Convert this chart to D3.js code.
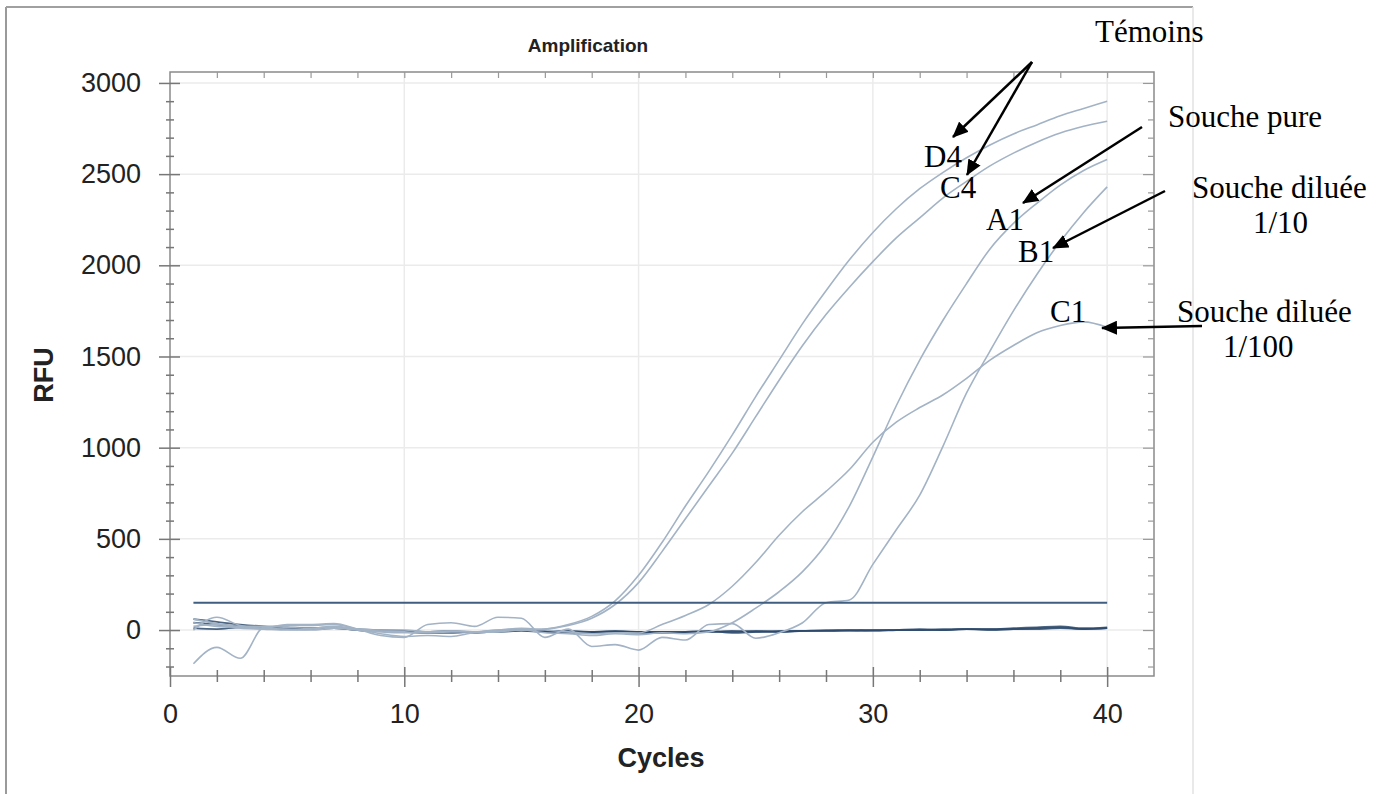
<!DOCTYPE html>
<html>
<head>
<meta charset="utf-8">
<script src="https://cdn.jsdelivr.net/npm/d3@7/dist/d3.min.js"></script>
<style>
  body { margin: 0; background: #fff; }
  svg { display: block; }
</style>
</head>
<body>
<div id="amplification-chart"></div>
<script>
// DATA
const cycles = [1, 2, 3, 4, 5, 6, 7, 8, 9, 10, 11, 12, 13, 14, 15, 16, 17, 18, 19, 20,
  21, 22, 23, 24, 25, 26, 27, 28, 29, 30, 31, 32, 33, 34, 35, 36, 37, 38, 39, 40];

const d4 = [20, 30, 10, 5, 0, 5, 15, 0, -10, -15, -10, -5, -10, 0, 0, 5, 30, 75, 160, 300,
  480, 680, 870, 1070, 1280, 1480, 1680, 1860, 2030, 2180, 2310, 2420, 2510, 2590, 2660, 2720, 2770, 2820, 2860, 2900];
const c4 = [40, 20, 15, 10, 5, 0, 10, 0, -5, -10, -15, -10, -10, -5, 0, 5, 25, 65, 140, 260,
  430, 610, 790, 970, 1170, 1370, 1560, 1730, 1880, 2020, 2150, 2260, 2370, 2460, 2545, 2615, 2675, 2725, 2762, 2790];
const a1 = [-185, -95, -155, 15, 25, 25, 30, 5, -20, -35, -30, -35, -15, -10, 0, -15, -20, -30, -20, -25,
  -15, -20, -10, 40, 120, 210, 320, 470, 680, 950, 1230, 1480, 1700, 1900, 2090, 2230, 2340, 2440, 2520, 2580];
const b1 = [0, 70, 25, 10, 30, 30, 35, 5, -30, -40, 30, 40, 20, 70, 65, -40, 5, -90, -80, -110,
  -40, -55, 30, 35, -45, -15, 40, 150, 165, 360, 550, 740, 1010, 1300, 1530, 1750, 1950, 2130, 2290, 2430];
const c1 = [60, 35, 20, 20, 15, 10, 20, 5, 0, 0, -10, -5, -10, 0, 10, 0, -10, -20, -15, -16,
  30, 80, 140, 240, 370, 520, 650, 760, 880, 1030, 1140, 1220, 1290, 1380, 1480, 1560, 1630, 1670, 1690, 1660];

// flat wells (no amplification)
const neg1 = [60, 45, 30, 20, 15, 10, 15, 5, 0, -5, -10, -10, -10, -5, 0, -5, -10, -15, -10, -10,
  -10, -15, -10, -10, -5, -10, -5, 0, 0, 0, 0, 0, 5, 5, 5, 10, 15, 20, 10, 15];
const neg2 = [40, 30, 20, 15, 10, 5, 10, 0, -5, -10, -15, -15, -10, -10, -5, -10, -15, -10, -10, -15,
  -15, -10, -5, -15, -10, -5, -5, -5, 0, -5, 0, 5, 0, 5, 5, 5, 5, 10, 5, 10];
const neg3 = [10, 5, 15, 10, 5, 5, 10, 0, -5, -5, -10, -5, -15, -5, 0, -5, -5, -10, -5, -10,
  -10, -10, -10, -5, -10, -10, -5, -5, -5, 0, 0, 0, 0, 5, 0, 5, 10, 15, 5, 10];

const threshold = 150;
const thresholdCycles = [1, 40];

const xTicks = [0, 10, 20, 30, 40];
const yTicks = [0, 500, 1000, 1500, 2000, 2500, 3000];

const WIDTH = 1389;
const HEIGHT = 794;
const PLOT = { LEFT: 170, RIGHT: 1154, TOP: 72, BOTTOM: 676 };
const SANS = "'Liberation Sans', Arial, sans-serif";
const SERIF = "'Liberation Serif', 'Times New Roman', serif";

let svg = d3
  .select("#amplification-chart")
  .append("svg")
  .attr("width", WIDTH)
  .attr("height", HEIGHT);

svg.append("rect").attr("width", WIDTH).attr("height", HEIGHT).style("fill", "#fff");

// OUTER PAGE FRAME
svg.append("line").attr("x1", 6).attr("y1", 7).attr("x2", 6).attr("y2", HEIGHT)
  .style("stroke", "#9a9a9a").style("stroke-width", "2px");
svg.append("line").attr("x1", 6).attr("y1", 7).attr("x2", 1193).attr("y2", 7)
  .style("stroke", "#a0a0a0").style("stroke-width", "2px");
svg.append("line").attr("x1", 1193).attr("y1", 7).attr("x2", 1193).attr("y2", HEIGHT)
  .style("stroke", "#e2e2e2").style("stroke-width", "1.5px");

let x = d3.scaleLinear().domain([0, 42]).range([PLOT.LEFT, PLOT.RIGHT]);
let y = d3.scaleLinear().domain([-252, 3060]).range([PLOT.BOTTOM, PLOT.TOP]);

// GRID
svg.append("g")
  .selectAll("line")
  .data(xTicks.filter((d) => d > 0))
  .enter()
  .append("line")
  .attr("x1", (d) => x(d)).attr("x2", (d) => x(d))
  .attr("y1", PLOT.TOP).attr("y2", PLOT.BOTTOM)
  .style("stroke", "#ebebeb").style("stroke-width", "1.5px");

svg.append("g")
  .selectAll("line")
  .data(yTicks)
  .enter()
  .append("line")
  .attr("x1", PLOT.LEFT).attr("x2", PLOT.RIGHT)
  .attr("y1", (d) => y(d)).attr("y2", (d) => y(d))
  .style("stroke", "#ebebeb").style("stroke-width", "1.5px");

// FRAME
svg.append("rect")
  .attr("x", PLOT.LEFT).attr("y", PLOT.TOP)
  .attr("width", PLOT.RIGHT - PLOT.LEFT).attr("height", PLOT.BOTTOM - PLOT.TOP)
  .style("fill", "none").style("stroke", "#8a8a8a").style("stroke-width", "1.5px");

// AXES
let yMinor = d3.range(-200, 3001, 100).filter((d) => d % 500 !== 0);
let xMinor = d3.range(2, 42, 2).filter((d) => d % 10 !== 0);

svg.append("g")
  .attr("transform", `translate(${PLOT.LEFT}, 0)`)
  .call(d3.axisLeft(y).tickValues(yTicks).tickFormat(d3.format("d")).tickSize(11).tickPadding(18))
  .call((g) => {
    g.select(".domain").remove();
    g.selectAll(".tick line").attr("x1", 10).style("stroke", "#777").style("stroke-width", "1.5px");
    g.selectAll("text").style("font-family", SANS).style("font-size", "27px").style("fill", "#222");
  });

svg.append("g")
  .attr("transform", `translate(${PLOT.LEFT}, 0)`)
  .call(d3.axisLeft(y).tickValues(yMinor).tickSize(4).tickFormat(""))
  .call((g) => {
    g.select(".domain").remove();
    g.selectAll(".tick line").attr("x1", 4).style("stroke", "#777").style("stroke-width", "1.5px");
  });

svg.append("g")
  .attr("transform", `translate(0, ${PLOT.BOTTOM})`)
  .call(d3.axisBottom(x).tickValues(xTicks).tickFormat(d3.format("d")).tickSize(11).tickPadding(17))
  .call((g) => {
    g.select(".domain").remove();
    g.selectAll(".tick line").attr("y1", -9).style("stroke", "#777").style("stroke-width", "1.5px");
    g.selectAll("text").style("font-family", SANS).style("font-size", "27px").style("fill", "#222");
  });

svg.append("g")
  .attr("transform", `translate(0, ${PLOT.BOTTOM})`)
  .call(d3.axisBottom(x).tickValues(xMinor).tickSize(6).tickFormat(""))
  .call((g) => {
    g.select(".domain").remove();
    g.selectAll(".tick line").attr("y1", -6).style("stroke", "#777").style("stroke-width", "1.5px");
  });

// top + right ticks (inside)
svg.append("g")
  .attr("transform", `translate(0, ${PLOT.TOP})`)
  .call(d3.axisBottom(x).tickValues(xMinor.concat([10, 20, 30, 40])).tickSize(6).tickFormat(""))
  .call((g) => {
    g.select(".domain").remove();
    g.selectAll(".tick line").style("stroke", "#999").style("stroke-width", "1.2px");
  });

svg.append("g")
  .attr("transform", `translate(${PLOT.RIGHT}, 0)`)
  .call(d3.axisLeft(y).tickValues(yMinor).tickSize(6).tickFormat(""))
  .call((g) => {
    g.select(".domain").remove();
    g.selectAll(".tick line").style("stroke", "#999").style("stroke-width", "1.2px");
  });
svg.append("g")
  .attr("transform", `translate(${PLOT.RIGHT}, 0)`)
  .call(d3.axisLeft(y).tickValues(yTicks).tickSize(11).tickFormat(""))
  .call((g) => {
    g.select(".domain").remove();
    g.selectAll(".tick line").style("stroke", "#999").style("stroke-width", "1.2px");
  });

// CURVES
let line = d3
  .line()
  .x((d, i) => x(cycles[i]))
  .y((d) => y(d))
  .curve(d3.curveMonotoneX);

svg.append("g")
  .selectAll("path")
  .data([neg1, neg2, neg3])
  .enter()
  .append("path")
  .attr("d", line)
  .style("fill", "none")
  .style("stroke", "#2d4a6c")
  .style("stroke-width", "1.8px")
  .style("opacity", 0.85);

svg.append("g")
  .selectAll("path")
  .data([d4, c4, a1, b1, c1])
  .enter()
  .append("path")
  .attr("d", line)
  .style("fill", "none")
  .style("stroke", "#a3b3c6")
  .style("stroke-width", "1.6px");

// threshold
svg.append("line")
  .attr("x1", x(thresholdCycles[0])).attr("x2", x(thresholdCycles[1]))
  .attr("y1", y(threshold)).attr("y2", y(threshold))
  .style("stroke", "#3f5e80")
  .style("stroke-width", "2px");

// TITLES
svg.append("text")
  .attr("x", 588).attr("y", 52)
  .style("text-anchor", "middle")
  .style("font-family", SANS).style("font-weight", "700").style("font-size", "19px").style("fill", "#222")
  .text("Amplification");

svg.append("text")
  .attr("x", 661).attr("y", 767)
  .style("text-anchor", "middle")
  .style("font-family", SANS).style("font-weight", "700").style("font-size", "27px").style("fill", "#222")
  .text("Cycles");

svg.append("text")
  .attr("transform", "translate(53, 375) rotate(-90)")
  .style("text-anchor", "middle")
  .style("font-family", SANS).style("font-weight", "700").style("font-size", "27px").style("fill", "#222")
  .text("RFU");

// ANNOTATIONS
const notes = [
  { text: "Témoins", x: 1095, y: 42 },
  { text: "Souche pure", x: 1168, y: 127 },
  { text: "Souche diluée", x: 1192, y: 198 },
  { text: "1/10", x: 1253, y: 233 },
  { text: "Souche diluée", x: 1177, y: 322 },
  { text: "1/100", x: 1223, y: 357 },
  { text: "D4", x: 924, y: 167 },
  { text: "C4", x: 940, y: 198 },
  { text: "A1", x: 986, y: 230 },
  { text: "B1", x: 1018, y: 262 },
  { text: "C1", x: 1050, y: 322 },
];
const arrows = [
  [1032, 62, 953, 137],
  [1032, 62, 967, 175],
  [1142, 127, 1023, 203],
  [1165, 191, 1053, 248],
  [1202, 326, 1102, 328],
];

svg.append("defs")
  .append("marker")
  .attr("id", "arrowhead")
  .attr("viewBox", "0 0 16 14")
  .attr("refX", 15).attr("refY", 7)
  .attr("markerWidth", 16).attr("markerHeight", 14)
  .attr("markerUnits", "userSpaceOnUse")
  .attr("orient", "auto")
  .append("path")
  .attr("d", "M0,0 L16,7 L0,14 Z")
  .style("fill", "#000");

svg.append("g")
  .selectAll("text")
  .data(notes)
  .enter()
  .append("text")
  .attr("x", (d) => d.x).attr("y", (d) => d.y)
  .style("font-family", SERIF).style("font-size", "31px").style("fill", "#000")
  .text((d) => d.text);

svg.append("g")
  .selectAll("line")
  .data(arrows)
  .enter()
  .append("line")
  .attr("x1", (d) => d[0]).attr("y1", (d) => d[1])
  .attr("x2", (d) => d[2]).attr("y2", (d) => d[3])
  .attr("marker-end", "url(#arrowhead)")
  .style("stroke", "#000")
  .style("stroke-width", "2.5px");
</script>
</body>
</html>
